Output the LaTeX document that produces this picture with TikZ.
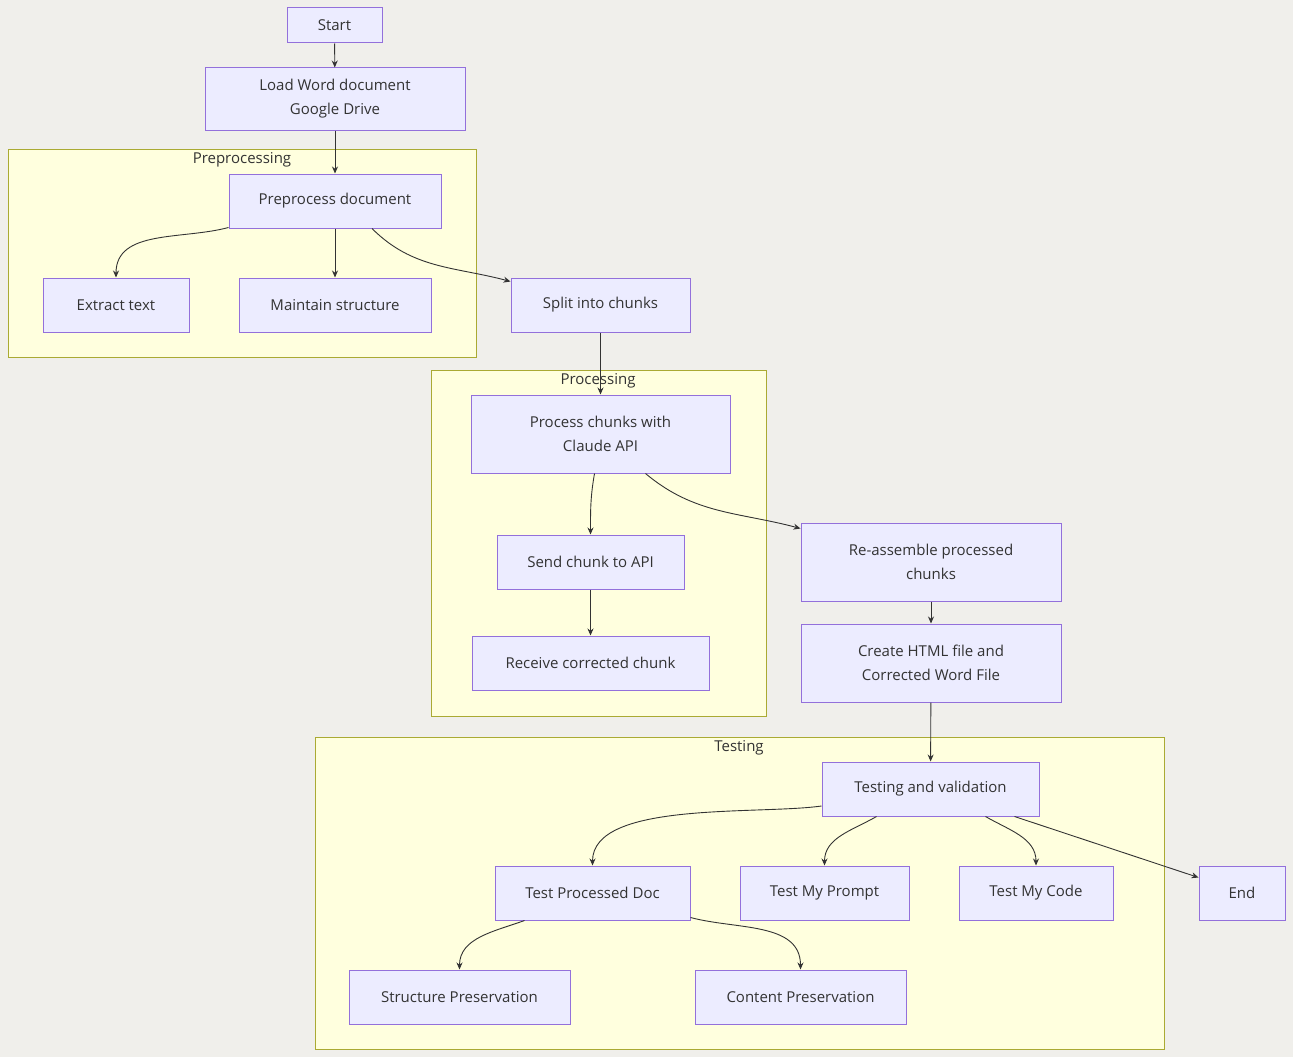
\documentclass[tikz,border=0pt]{standalone}
\usepackage{fontspec}
\setmainfont{Open Sans}
\usetikzlibrary{arrows.meta}
\definecolor{bg}{HTML}{F0EFEB}
\definecolor{nf}{HTML}{ECECFF}
\definecolor{ns}{HTML}{9370DB}
\definecolor{cf}{HTML}{FFFFDE}
\definecolor{cs}{HTML}{AAAA33}
\definecolor{tx}{HTML}{333333}
\begin{document}
\begin{tikzpicture}[x=1pt,y=-1pt,
  box/.style={draw=ns,fill=nf,line width=1pt,text=tx,align=center,inner sep=0pt,font=\fontsize{15}{24}\selectfont},
  clu/.style={draw=cs,fill=cf,line width=1pt},
  clab/.style={text=tx,font=\fontsize{15}{18}\selectfont},
  e/.style={draw=tx,line width=0.9pt,-{Stealth[length=7pt,width=6pt]}}]
\fill[bg] (0,0) rectangle (1293,1057);
\useasboundingbox (0,0) rectangle (1293,1057);
\newcommand\bx[6]{\node[box,minimum width=#4pt,minimum height=#5pt] (#1) at (#2,#3) {#6};}
\draw[clu] (8,149) rectangle (476,357); \node[clab] (l1) at (242,160) {Preprocessing};
\draw[clu] (431,370) rectangle (766,716); \node[clab] (l2) at (598,381) {Processing};
\draw[clu] (315,737) rectangle (1164,1049); \node[clab] (l3) at (739,748) {Testing};
\bx{st}{334.5}{25.5}{95}{35}{Start}
\bx{ld}{335}{99}{260}{62}{Load Word document\\Google Drive}
\bx{pp}{335}{201}{212}{54}{Preprocess document}
\bx{ex}{116}{305}{146}{54}{Extract text}
\bx{ms}{335}{305}{192}{54}{Maintain structure}
\bx{sp}{600.5}{305}{179}{54}{Split into chunks}
\bx{pc}{600.5}{434}{259}{78}{Process chunks with\\Claude API}
\bx{sc}{590.5}{562}{187}{54}{Send chunk to API}
\bx{rc}{590.5}{663}{237}{54}{Receive corrected chunk}
\bx{ra}{931}{562}{260}{78}{Re-assemble processed\\chunks}
\bx{ch}{931}{663}{260}{78}{Create HTML file and\\Corrected Word File}
\bx{tv}{930.5}{789}{217}{54}{Testing and validation}
\bx{tp}{592.5}{893}{195}{54}{Test Processed Doc}
\bx{tm}{824.5}{893}{169}{54}{Test My Prompt}
\bx{tc}{1036}{893}{154}{54}{Test My Code}
\bx{en}{1242}{893}{86}{54}{End}
\bx{sv}{459.5}{997}{221}{54}{Structure Preservation}
\bx{cv}{800.5}{997}{211}{54}{Content Preservation}
\draw[e] (st) -- (ld);
\draw[e] (ld) -- (pp);
\draw[e] ([yshift=1pt]pp.south west) to[out=195,in=90] (ex.north);
\draw[e] (pp) -- (ms);
\draw[e] ([xshift=37pt]pp.south) to[out=-45,in=165] ([yshift=-4pt]sp.north west);
\draw[e] (sp) -- (pc.north);
\draw[e] ([xshift=-6pt]pc.south) to[out=-100,in=90] (sc.north);
\draw[e] (sc) -- (rc);
\draw[e] ([xshift=45pt]pc.south) to[out=-40,in=165] ([yshift=-6pt]ra.north west);
\draw[e] (ra) -- (ch);
\draw[e] (ch) -- (tv);
\draw[e] ([yshift=-17pt]tv.west) to[out=188,in=90,looseness=0.7] (tp.north);
\draw[e] ([xshift=-54pt]tv.south) to[out=-150,in=90] (tm.north);
\draw[e] ([xshift=55pt]tv.south) to[out=-30,in=90] (tc.north);
\draw[e] ([xshift=84pt]tv.south) -- ([yshift=-12pt]en.north west);
\draw[e] ([xshift=-68pt]tp.south) to[out=-160,in=90] (sv.north);
\draw[e] ([yshift=3pt]tp.south east) to[out=-15,in=90] (cv.north);
\end{tikzpicture}
\end{document}
